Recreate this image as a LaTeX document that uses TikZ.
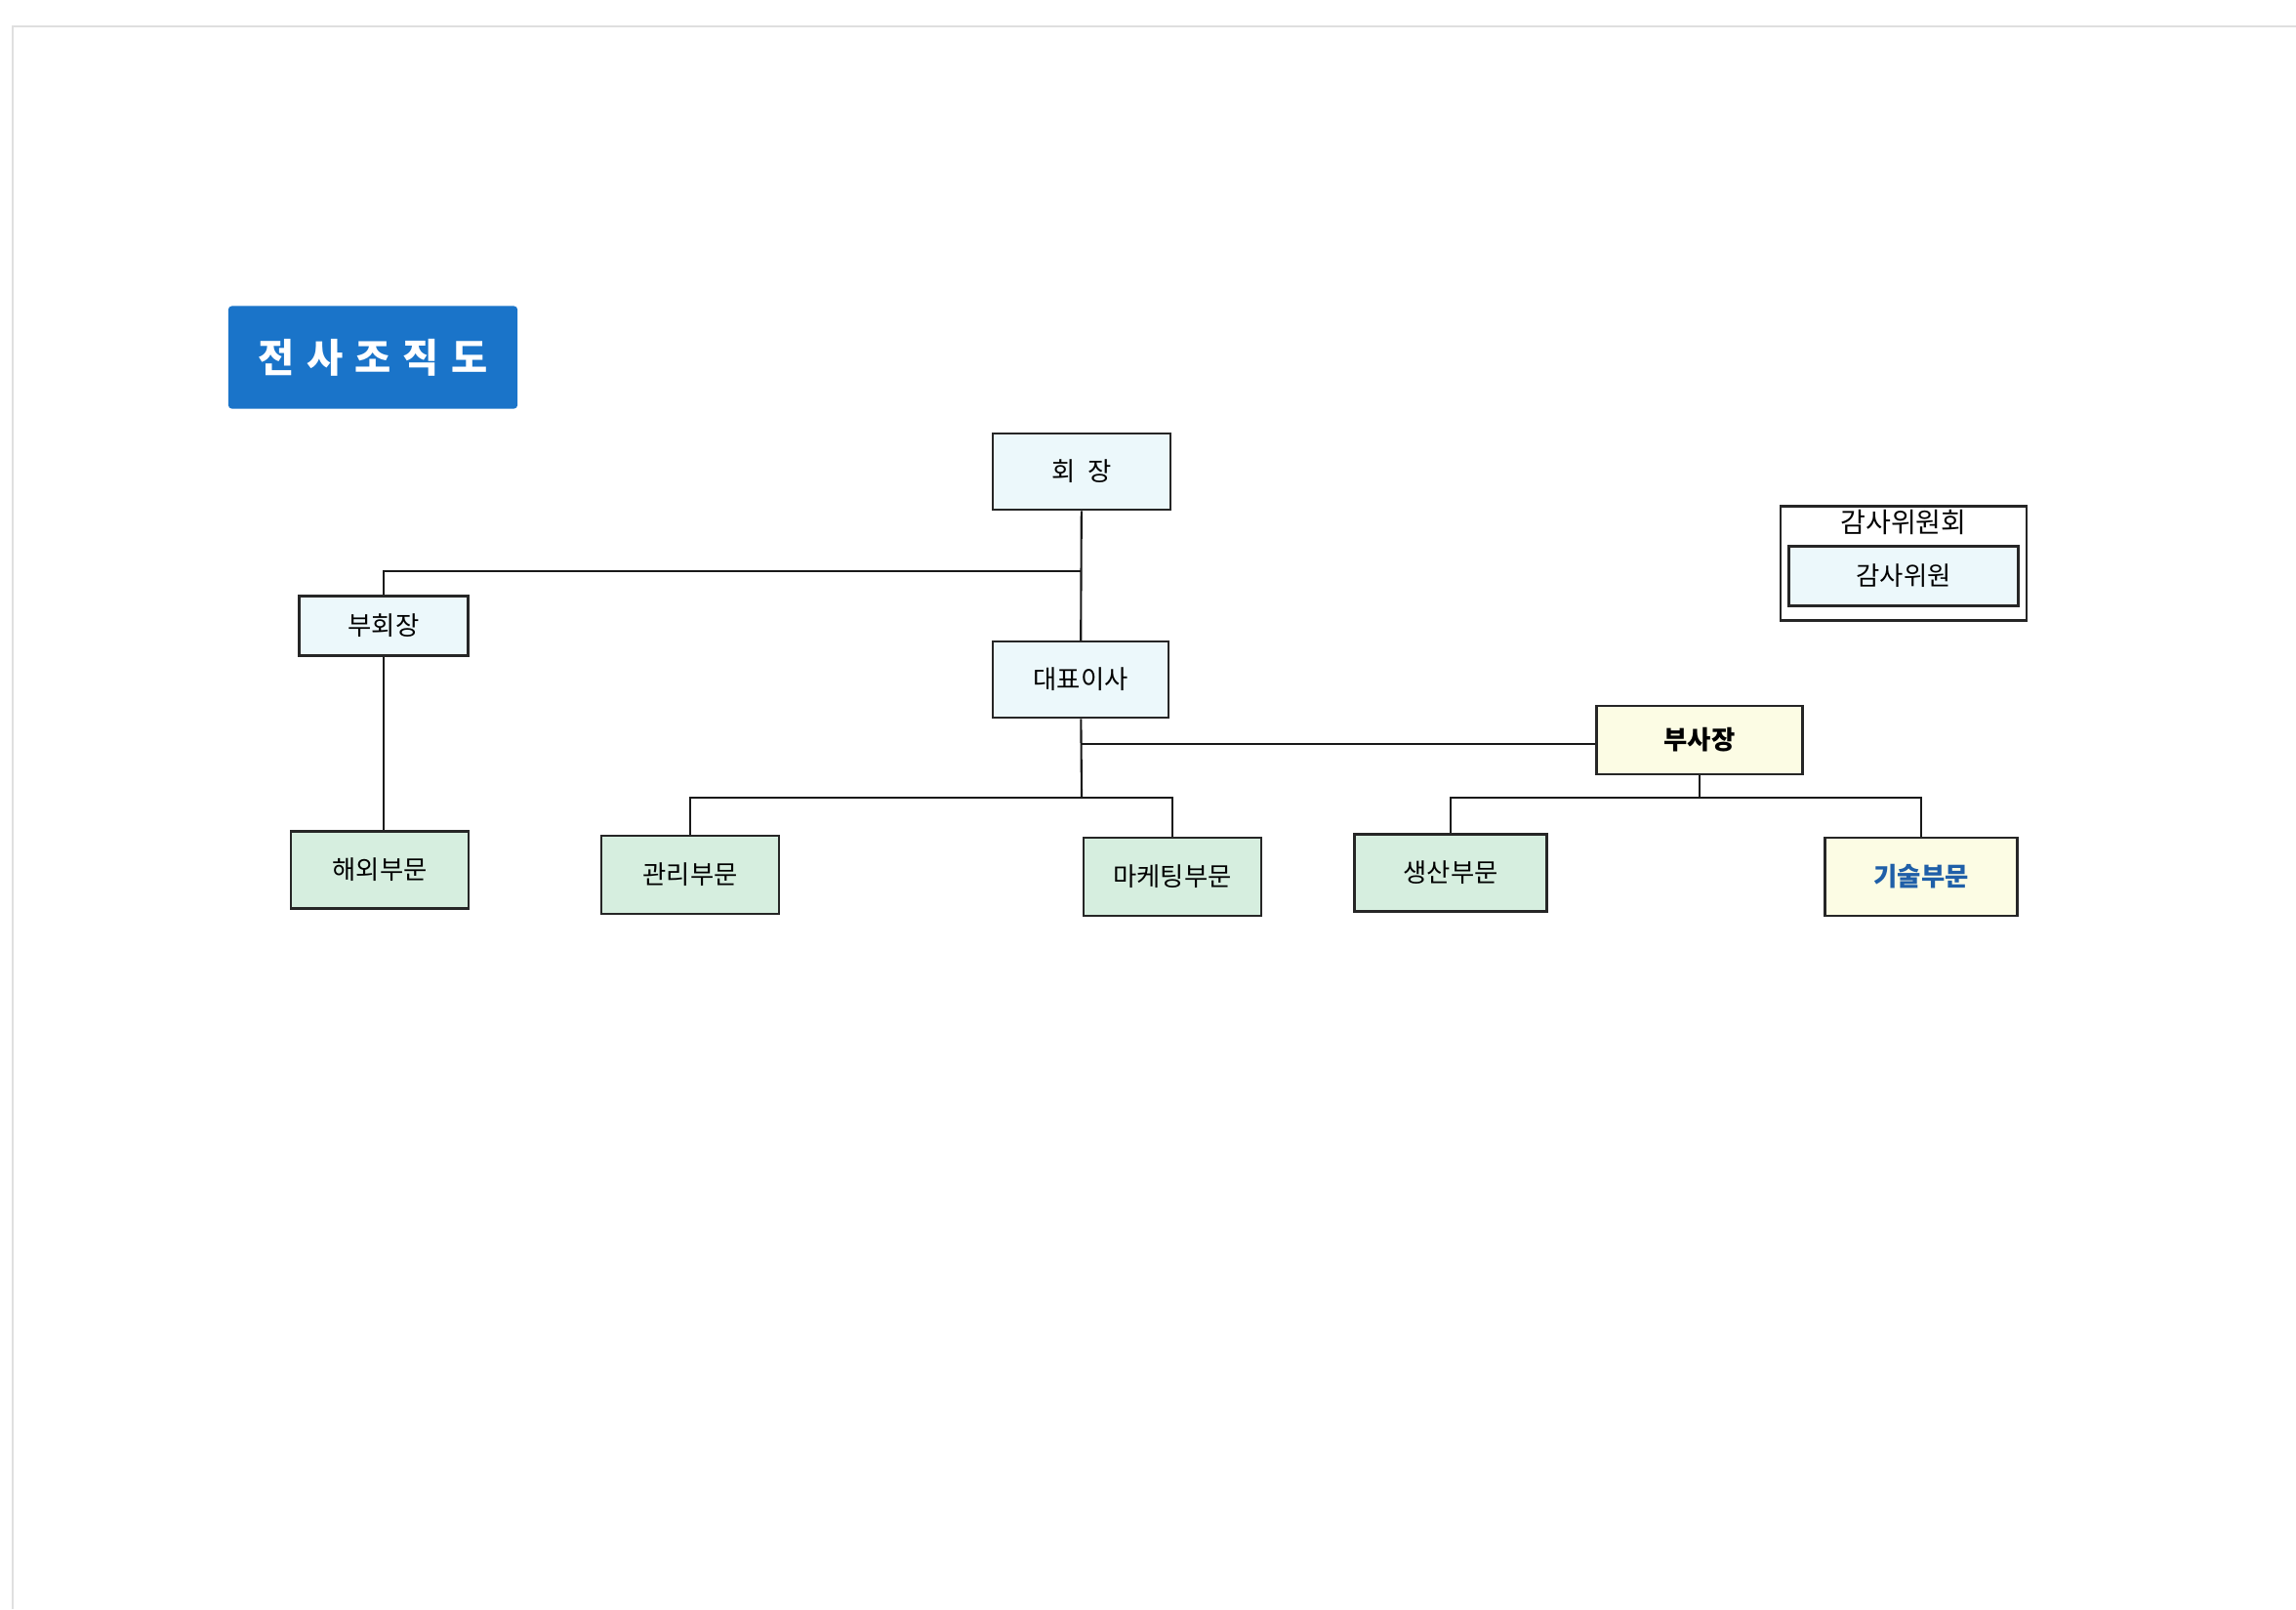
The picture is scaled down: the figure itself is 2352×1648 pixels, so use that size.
\documentclass[tikz,border=0pt]{standalone}
\usepackage{fontspec}
\setmainfont{Noto Sans CJK KR}
\usetikzlibrary{positioning}
\definecolor{titleblue}{HTML}{1A74C9}
\definecolor{boxcyan}{HTML}{ECF8FB}
\definecolor{boxgreen}{HTML}{D6EEDF}
\definecolor{boxyellow}{HTML}{FCFCE4}
\definecolor{techblue}{HTML}{1F5FA8}
\begin{document}
\begin{tikzpicture}[x=0.01cm,y=-0.01cm,
    box/.style={draw=black!85,line width=0.7pt,inner sep=0pt,font=\fontsize{7.5}{9}\selectfont},
    top/.style={box,fill=boxcyan},
    dept/.style={box,fill=boxgreen,minimum height=0.8cm},
    vpbox/.style={box,fill=boxyellow},
    link/.style={draw=black!90,line width=0.6pt}]
      \useasboundingbox[fill=white] (0,0) rectangle (2352,1648);
      \draw[gray!25,line width=0.6pt] (13,1648) -- (13,27) -- (2352,27);
      \node[fill=titleblue,rounded corners=1pt,minimum width=2.96cm,minimum height=1.05cm,
        text=white,font=\fontsize{11.5}{13}\bfseries](title) at (382,366)
        {전\hspace{0.3em}사\hspace{0.3em}조\hspace{0.3em}직\hspace{0.3em}도};
      \node[top,minimum width=1.82cm,minimum height=0.78cm](chair) at (1108,483) {회\hspace{0.5em}장};
      \node[top,minimum width=1.73cm,minimum height=0.61cm](vicechair) at (393,641) {부회장};
      \node[top,minimum width=1.80cm,minimum height=0.78cm](ceo) at (1107,696) {대표이사};
      \node[box,minimum width=2.52cm,minimum height=1.17cm](audit) at (1950,577) {};
      \node[font=\fontsize{8}{10}\selectfont](audittitle) at (1950,535) {감사위원회};
      \node[top,minimum width=2.35cm,minimum height=0.61cm](auditor) at (1950,590) {감사위원};
      \node[vpbox,minimum width=2.11cm,minimum height=0.70cm,font=\fontsize{7.5}{9}\bfseries](vp) at (1741,758) {부사장};
      \node[dept,minimum width=1.82cm,minimum height=0.79cm](overseas) at (389,891) {해외부문};
      \node[dept,minimum width=1.82cm](admin) at (707,896) {관리부문};
      \node[dept,minimum width=1.82cm](mkt) at (1201,898) {마케팅부문};
      \node[dept,minimum width=1.97cm,minimum height=0.79cm](prod) at (1486,894) {생산부문};
      \node[vpbox,minimum width=1.97cm,minimum height=0.8cm,text=techblue,
        font=\fontsize{7.5}{9}\bfseries](tech) at (1968,898) {기술부문};
      \coordinate (j1) at (1108,585);
      \coordinate (j2) at (1108,817);
      \coordinate (j3) at (1108,762);
      \coordinate (j4) at (1741,817);
      \draw[link] (chair) -- (ceo);
      \draw[link] (j1) -| (vicechair);
      \draw[link] (vicechair) -- (vicechair |- overseas.north);
      \draw[link] (ceo) -- (j2);
      \draw[link] (j3) -- (j3 -| vp.west);
      \draw[link] (admin) |- (j2) -| (mkt);
      \draw[link] (vp) -- (j4);
      \draw[link] (prod) |- (j4) -| (tech);
    \end{tikzpicture}
\end{document}
